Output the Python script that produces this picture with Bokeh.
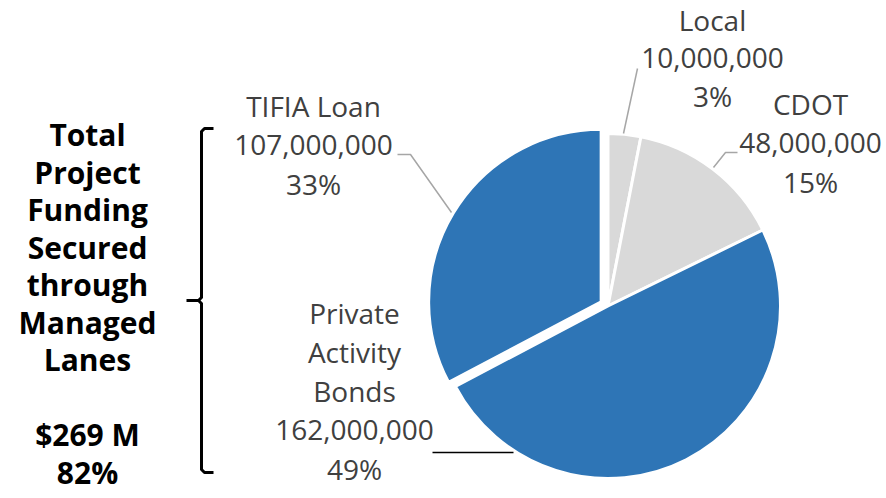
import numpy as np
from bokeh.plotting import figure
from bokeh.models import Range1d, ColumnDataSource
from bokeh.core.properties import value
from bokeh.embed import file_html
from bokeh.resources import INLINE

# ---------------- data ----------------
categories = ["Local", "CDOT", "Private Activity Bonds", "TIFIA Loan"]
amounts = [10_000_000, 48_000_000, 162_000_000, 107_000_000]
pct_labels = ["3%", "15%", "49%", "33%"]
managed = ["Private Activity Bonds", "TIFIA Loan"]
managed_pct_label = "82%"
summary_title = ["Total", "Project", "Funding", "Secured", "through", "Managed", "Lanes"]

# ---------------- layout / style ----------------
W, H = 886, 498
def PX(x):  # picture pixel x -> data x
    return x
def PY(y):  # picture pixel y -> data y
    return H - y

slice_colors = {"Local": "#D9D9D9", "CDOT": "#D9D9D9",
                "Private Activity Bonds": "#2E75B6", "TIFIA Loan": "#2E75B6"}
explode = {"TIFIA Loan": 8.0}
center = (607.5, 305.5)
radius = 172.5
# cap-centre of first line of each label, and line step
label_anchor = {"Local": (712, 19, 38), "CDOT": (810, 103, 39),
                "Private Activity Bonds": (354, 312, 39), "TIFIA Loan": (313, 105, 39)}
label_font = value("Open Sans")
label_color = "#404040"

p = figure(width=W, height=H, output_backend="svg", toolbar_location=None,
           x_range=Range1d(0, W), y_range=Range1d(0, H),
           x_axis_type=None, y_axis_type=None, min_border=0,
           outline_line_color=None)
p.grid.visible = False
p.background_fill_color = "white"
p.border_fill_color = "white"

# ---------------- pie ----------------
total = float(sum(amounts))
frac = np.array(amounts) / total
cum_end = np.cumsum(frac)
cum_start = cum_end - frac
start = np.pi / 2 - 2 * np.pi * cum_start
end = np.pi / 2 - 2 * np.pi * cum_end
mid = (start + end) / 2

xs, ys = [], []
for c, m in zip(categories, mid):
    d = explode.get(c, 0.0)
    xs.append(PX(center[0]) + d * np.cos(m))
    ys.append(PY(center[1]) + d * np.sin(m))

src = ColumnDataSource(dict(x=xs, y=ys, start=start, end=end,
                            color=[slice_colors[c] for c in categories]))
p.wedge(x="x", y="y", radius=radius, radius_units="screen",
        start_angle="start", end_angle="end", direction="clock",
        fill_color="color", line_color="white", line_width=3, source=src)

# ---------------- leader lines ----------------
grey_leaders = [
    [(623, 133), (637, 68)],
    [(713, 167), (725, 152), (737, 152)],
    [(451, 212), (410, 154), (397, 154)],
]
p.multi_line(xs=[[PX(a) for a, b in seg] for seg in grey_leaders],
             ys=[[PY(b) for a, b in seg] for seg in grey_leaders],
             line_color="#A6A6A6", line_width=1.5)
p.line(x=[PX(432), PX(513)], y=[PY(452), PY(452)], line_color="black", line_width=1.5)

# ---------------- data labels ----------------
tx, ty, tt = [], [], []
for c, amt, pc in zip(categories, amounts, pct_labels):
    lines = c.split(" ") if len(c) > 12 else [c]
    lines = lines + [f"{amt:,}", pc]
    ax, ay, step = label_anchor[c]
    for i, s in enumerate(lines):
        tx.append(PX(ax))
        ty.append(PY(ay + i * step))
        tt.append(s)
p.text(x=tx, y=ty, text=tt, text_font=label_font, text_font_size="28px",
       text_align="center", text_baseline="middle", text_color=label_color)

# ---------------- summary block ----------------
managed_total = sum(a for c, a in zip(categories, amounts) if c in managed)
summary = summary_title + ["", f"${managed_total // 1_000_000} M", managed_pct_label]
sx = [PX(87)] * len(summary)
sy = [PY(134 + i * 37.5) for i in range(len(summary))]
p.text(x=sx, y=sy, text=summary, text_font=value("Open Sans"), text_font_size="30px",
       text_font_style="bold", text_align="center", text_baseline="middle",
       text_color="black")

# bracket
bx_top = [213, 204, 201, 201, 198, 186]
by_top = [128, 128, 131, 297, 300, 300]
bx_bot = [198, 201, 201, 204, 213]
by_bot = [300, 303, 469, 472, 472]
p.multi_line(xs=[[PX(v) for v in bx_top], [PX(v) for v in bx_bot]],
             ys=[[PY(v) for v in by_top], [PY(v) for v in by_bot]],
             line_color="black", line_width=3, line_join="round")

open("out.html", "w").write(file_html(p, INLINE))
